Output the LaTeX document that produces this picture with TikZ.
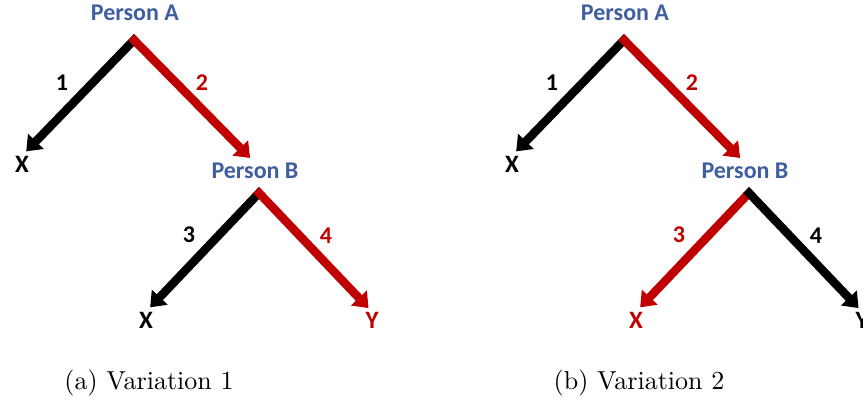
\documentclass[tikz,border=0pt]{standalone}
\usepackage{fontspec}
\newfontfamily\calib{Carlito}
\newfontfamily\capfont[Extension=.otf]{lmroman10-regular}
\usetikzlibrary{arrows.meta}
\definecolor{persblue}{RGB}{62,94,160}
\definecolor{pathred}{RGB}{192,0,0}

\begin{document}
\begin{tikzpicture}[x=1pt, y=-1pt,
		person/.style={font=\calib\bfseries\fontsize{24}{28}\selectfont, text=persblue, inner sep=0pt},
		outcome/.style={font=\calib\bfseries\fontsize{25}{29}\selectfont, inner sep=0pt},
		num/.style={font=\calib\bfseries\fontsize{24}{28}\selectfont, inner sep=0pt},
		branch/.style={line width=8.5pt, shorten <=-4pt, -{Triangle[width=21pt,length=14pt]}},
		caption/.style={font=\capfont\fontsize{26}{30}\selectfont, inner sep=0pt}]
		% Bildbereich
		\useasboundingbox (0,0) rectangle (863,405);
		\clip (0,0) rectangle (863,405);
		% Variation 1
		\node[person] (pa1) at (135,13) {Person A};
		\coordinate (ta1) at (134,40);
		\node[outcome] (x1) at (22,164) {X};
		\node[person] (pb1) at (255,171) {Person B};
		\coordinate (tb1) at (259,193);
		\node[outcome] (x2) at (146,320) {X};
		\node[outcome, text=pathred] (y2) at (372,320) {Y};
		\draw[branch, black, shorten >=6pt] (ta1) -- (x1.north);
		\draw[branch, pathred, shorten >=7pt] (ta1) -- (pb1.north);
		\draw[branch, black, shorten >=6pt] (tb1) -- (x2.north);
		\draw[branch, pathred, shorten >=5pt] (tb1) -- (y2.north);
		\node[num] (n1) at (62,83) {1};
		\node[num, text=pathred] (n2) at (202,83) {2};
		\node[num] (n3) at (189,235) {3};
		\node[num, text=pathred] (n4) at (326,236) {4};
		\node[caption] (capa) at (149,383) {(a) Variation 1};
		% Variation 2
		\begin{scope}[xshift=490pt]
			\node[person] (pa2) at (135,13) {Person A};
			\coordinate (ta2) at (134,40);
			\node[outcome] (x3) at (22,164) {X};
			\node[person] (pb2) at (255,171) {Person B};
			\coordinate (tb2) at (259,193);
			\node[outcome, text=pathred] (x4) at (146,320) {X};
			\node[outcome] (y4) at (372,320) {Y};
			\draw[branch, black, shorten >=6pt] (ta2) -- (x3.north);
			\draw[branch, pathred, shorten >=7pt] (ta2) -- (pb2.north);
			\draw[branch, pathred, shorten >=6pt] (tb2) -- (x4.north);
			\draw[branch, black, shorten >=5pt] (tb2) -- (y4.north);
			\node[num] (n5) at (62,83) {1};
			\node[num, text=pathred] (n6) at (202,83) {2};
			\node[num, text=pathred] (n7) at (189,235) {3};
			\node[num] (n8) at (326,236) {4};
			\node[caption] (capb) at (149,383) {(b) Variation 2};
		\end{scope}
	\end{tikzpicture}
\end{document}
